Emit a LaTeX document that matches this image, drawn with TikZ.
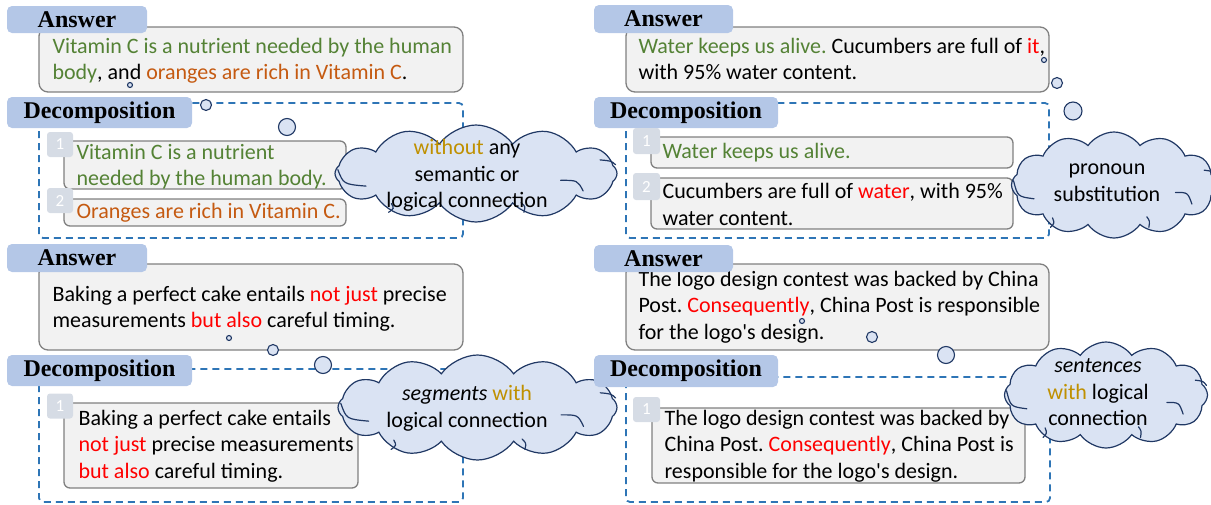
\documentclass[tikz,border=0pt]{standalone}
\usepackage{fontspec}
\setmainfont{Carlito}
\newfontfamily\headfont{Liberation Serif}
\usetikzlibrary{shapes.symbols,calc}
\definecolor{tabblue}{HTML}{B4C7E7}
\definecolor{boxgray}{HTML}{F2F2F2}
\definecolor{boxline}{HTML}{808080}
\definecolor{badgecol}{HTML}{D6DCE5}
\definecolor{dashblue}{HTML}{2E75B6}
\definecolor{cloudfill}{HTML}{DAE3F3}
\definecolor{cloudline}{HTML}{203864}
\definecolor{tgreen}{HTML}{548235}
\definecolor{torange}{HTML}{C55A11}
\definecolor{tred}{HTML}{FF0000}
\definecolor{tgold}{HTML}{BF9000}
\newcommand\grn[1]{\textcolor{tgreen}{#1}}
\newcommand\org[1]{\textcolor{torange}{#1}}
\newcommand\rd[1]{\textcolor{tred}{#1}}
\newcommand\gld[1]{\textcolor{tgold}{#1}}
\frenchspacing
\tikzset{
  bodyfont/.style={font=\fontsize{22}{26.5}\selectfont},
  tabbox/.style={fill=tabblue, draw=none, rounded corners=5pt, inner sep=0pt,
    font=\headfont\bfseries\fontsize{24}{24}\selectfont},
  abox/.style={fill=boxgray, draw=boxline, line width=1.3pt, rounded corners=9pt, inner sep=0pt},
  dbox/.style={abox, rounded corners=6pt},
  txt/.style={align=left, inner sep=0pt, anchor=west, bodyfont},
  numbox/.style={fill=badgecol, rounded corners=3pt, text=white, inner sep=0pt,
    minimum width=26pt, minimum height=25pt, font=\fontsize{17}{17}\selectfont},
  dashbox/.style={draw=dashblue, line width=1.8pt, dash pattern=on 7pt off 5pt, rounded corners=4pt},
  cloudbox/.style={cloud, cloud puffs=12, cloud puff arc=110, fill=cloudfill, draw=cloudline,
    line width=1.2pt, inner sep=0pt},
  cloudarc/.style={draw=cloudline, line width=1.2pt, line cap=round},
  bubble/.style={circle, fill=cloudfill, draw=cloudline, line width=1.1pt, inner sep=0pt},
  cloudtext/.style={align=center, inner sep=0pt, bodyfont},
}
% inner arcs of a cloud: #1 node, #2 width, #3 height
\newcommand\cloudarcs[3]{%
  \draw[cloudarc] ($(#1.center)+(-0.49*#2,-0.04*#3)$) .. controls ($(#1.center)+(-0.47*#2,0.11*#3)$) .. ($(#1.center)+(-0.39*#2,0.13*#3)$);
  \draw[cloudarc] ($(#1.center)+(0.30*#2,0.07*#3)$) .. controls ($(#1.center)+(0.36*#2,0.07*#3)$) .. ($(#1.center)+(0.38*#2,0.18*#3)$);
  \draw[cloudarc] ($(#1.center)+(0.44*#2,-0.14*#3)$) .. controls ($(#1.center)+(0.48*#2,-0.13*#3)$) .. ($(#1.center)+(0.495*#2,-0.09*#3)$);
  \draw[cloudarc] ($(#1.center)+(0.16*#2,0.30*#3)$) .. controls ($(#1.center)+(0.175*#2,0.34*#3)$) .. ($(#1.center)+(0.17*#2,0.40*#3)$);
  \draw[cloudarc] ($(#1.center)+(-0.30*#2,0.31*#3)$) .. controls ($(#1.center)+(-0.29*#2,0.36*#3)$) .. ($(#1.center)+(-0.31*#2,0.40*#3)$);
}
\begin{document}
\begin{tikzpicture}[x=1pt, y=-1pt]
\useasboundingbox (0,0) rectangle (1211,504);
% ===== top left =====
\node[abox, minimum width=424pt, minimum height=65pt] (a1) at (251,59.5) {};
\node[txt] (a1t) at ([xshift=14pt,yshift=-1pt]a1.west)
  {\grn{Vitamin C is a nutrient needed by the human}\\ \grn{body}, and \org{oranges are rich in Vitamin C}.};
\node[tabbox, minimum width=140pt, minimum height=27pt] (t1) at (77,19.5) {Answer};
\draw[dashbox] (39,103) rectangle (463,238);
\node[tabbox, minimum width=185pt, minimum height=31pt] (d1) at (99.5,112.5) {Decomposition};
\node[dbox, minimum width=282pt, minimum height=48pt] (s11) at (205,165) {};
\node[txt] (s11t) at ([xshift=13pt,yshift=-1.5pt]s11.west)
  {\grn{Vitamin C is a nutrient}\\ \grn{needed by the human body.}};
\node[dbox, minimum width=282pt, minimum height=27pt] (s12) at (205,212.5) {};
\node[txt] (s12t) at ([xshift=13pt]s12.west) {\org{Oranges are rich in Vitamin C.}};
\node[numbox] (n11) at (60,144.5) {1};
\node[numbox] (n12) at (60,200.5) {2};
\node[bubble, minimum size=5pt] (b11) at (130,85) {};
\node[bubble, minimum size=11pt] (b12) at (206,105) {};
\node[bubble, minimum size=17pt] (b13) at (287,127) {};
\node[cloudbox, aspect=2.9, minimum width=282pt, minimum height=97pt] (c1) at (476,173.5) {};
\cloudarcs{c1}{282}{97}
\node[cloudtext] (ct1) at (467,175.5) {\gld{without} any\\ semantic or\\ logical connection};
% ===== top right =====
\node[abox, minimum width=423pt, minimum height=65pt] (a2) at (837.5,59.5) {};
\node[txt] (a2t) at ([xshift=13pt,yshift=0.5pt]a2.west)
  {\grn{Water keeps us alive.} Cucumbers are full of \rd{it},\\ with 95\% water content.};
\node[tabbox, minimum width=139pt, minimum height=28pt] (t2) at (663.5,19) {Answer};
\draw[dashbox] (626,103) rectangle (1049,238);
\node[tabbox, minimum width=184pt, minimum height=31pt] (d2) at (686,112.5) {Decomposition};
\node[dbox, minimum width=362pt, minimum height=31pt] (s21) at (832,152.5) {};
\node[txt] (s21t) at ([xshift=12pt]s21.west) {\grn{Water keeps us alive.}};
\node[dbox, minimum width=362pt, minimum height=51pt] (s22) at (832,203.5) {};
\node[txt] (s22t) at ([xshift=12pt,yshift=-1pt]s22.west)
  {Cucumbers are full of \rd{water}, with 95\%\\ water content.};
\node[numbox, minimum width=27pt, minimum height=26pt] (n21) at (646.5,141) {1};
\node[numbox, minimum width=27pt, minimum height=27pt] (n22) at (646.5,186.5) {2};
\node[bubble, minimum size=5pt] (b21) at (1044,60) {};
\node[bubble, minimum size=11pt] (b22) at (1057,83) {};
\node[bubble, minimum size=18pt] (b23) at (1073,111) {};
\node[cloudbox, aspect=1.9, minimum width=205pt, minimum height=106pt] (c2) at (1114,185) {};
\cloudarcs{c2}{205}{106}
\node[cloudtext] (ct2) at (1107,182.5) {pronoun\\ substitution};
% ===== bottom left =====
\node[abox, minimum width=424pt, minimum height=86pt] (a3) at (251,307) {};
\node[txt] (a3t) at ([xshift=14pt,yshift=-1.5pt]a3.west)
  {Baking a perfect cake entails \rd{not just} precise\\ measurements \rd{but also} careful timing.};
\node[tabbox, minimum width=140pt, minimum height=28pt] (t3) at (77,258) {Answer};
\draw[dashbox] (39,369) rectangle (463,502);
\node[tabbox, minimum width=185pt, minimum height=31pt] (d3) at (99.5,370.5) {Decomposition};
\node[dbox, minimum width=294pt, minimum height=85pt] (s31) at (211,445.5) {};
\node[txt] (s31t) at ([xshift=15pt,yshift=-0.5pt]s31.west)
  {Baking a perfect cake entails\\ \rd{not just} precise measurements\\ \rd{but also} careful timing.};
\node[numbox] (n31) at (60,406) {1};
\node[bubble, minimum size=5pt] (b31) at (229,338) {};
\node[bubble, minimum size=11pt] (b32) at (273,350) {};
\node[bubble, minimum size=17pt] (b33) at (323,365) {};
\node[cloudbox, aspect=2.6, minimum width=279pt, minimum height=105pt] (c3) at (477.5,407.5) {};
\cloudarcs{c3}{279}{105}
\node[cloudtext] (ct3) at (467,408) {\textit{segments} \gld{with}\\ logical connection};
% ===== bottom right =====
\node[abox, minimum width=423pt, minimum height=86pt] (a4) at (837.5,307) {};
\node[txt] (a4t) at ([xshift=13pt]a4.west)
  {The logo design contest was backed by China\\ Post. \rd{Consequently}, China Post is responsible\\ for the logo\textquotesingle s design.};
\node[tabbox, minimum width=139pt, minimum height=27pt] (t4) at (663.5,258.5) {Answer};
\draw[dashbox] (626,377) rectangle (1050,502);
\node[tabbox, minimum width=184pt, minimum height=32pt] (d4) at (686,371) {Decomposition};
\node[dbox, minimum width=373pt, minimum height=75pt] (s41) at (838.5,445.5) {};
\node[txt] (s41t) at ([xshift=13pt,yshift=-0.5pt]s41.west)
  {The logo design contest was backed by\\ China Post. \rd{Consequently}, China Post is\\ responsible for the logo\textquotesingle s design.};
\node[numbox, minimum width=27pt, minimum height=25pt] (n41) at (646.5,409.5) {1};
\node[bubble, minimum size=5pt] (b41) at (802,321) {};
\node[bubble, minimum size=11pt] (b42) at (872,337) {};
\node[bubble, minimum size=17pt] (b43) at (946,355) {};
\node[cloudbox, aspect=1.9, minimum width=203pt, minimum height=106pt] (c4) at (1106,395) {};
\cloudarcs{c4}{203}{106}
\node[cloudtext] (ct4) at (1098,392.5) {\textit{sentences}\\ \gld{with} logical\\ connection};
\end{tikzpicture}
\end{document}
